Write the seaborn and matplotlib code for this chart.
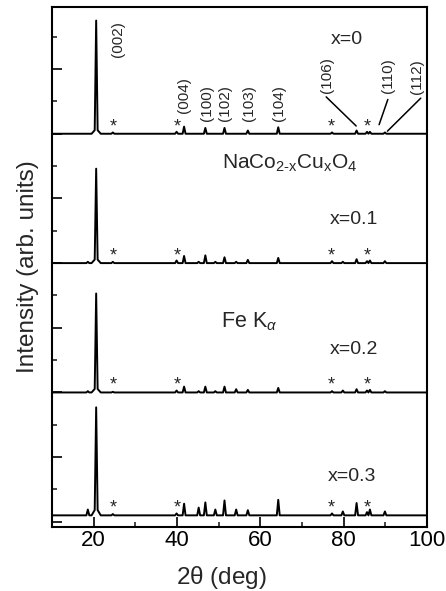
import numpy as np
import matplotlib
matplotlib.use("Agg")
import matplotlib.pyplot as plt
import seaborn as sns

# peak positions (2theta, deg) shared by all four patterns
peak_pos = [18.6, 20.6, 24.6, 39.9, 41.7, 45.2, 46.8, 49.2, 51.4, 54.2,
            57.0, 64.3, 77.2, 79.8, 83.1, 85.6, 86.3, 89.9]

# peak heights above each baseline (arb. units)
h_x0 = [0.00, 1.67, 0.02, 0.03, 0.11, 0.00, 0.09, 0.00, 0.09, 0.00,
        0.05, 0.10, 0.02, 0.00, 0.05, 0.03, 0.03, 0.02]
h_x01 = [0.02, 1.38, 0.02, 0.04, 0.11, 0.02, 0.12, 0.02, 0.09, 0.02,
         0.05, 0.08, 0.03, 0.02, 0.06, 0.03, 0.04, 0.03]
h_x02 = [0.02, 1.45, 0.01, 0.03, 0.09, 0.02, 0.09, 0.02, 0.09, 0.05,
         0.04, 0.07, 0.02, 0.03, 0.05, 0.03, 0.04, 0.02]
h_x03 = [0.09, 1.55, 0.02, 0.03, 0.18, 0.12, 0.20, 0.09, 0.23, 0.09,
         0.08, 0.24, 0.03, 0.06, 0.19, 0.05, 0.09, 0.06]
foot_h = [0.08, 0.08, 0.08, 0.12]   # broad skirt under the (002) line

samples = ["x=0", "x=0.1", "x=0.2", "x=0.3"]
heights = [h_x0, h_x01, h_x02, h_x03]
baselines = [6.0, 4.0, 2.0, 0.1]

star_pos = [24.6, 40.0, 77.0, 85.7]   # impurity reflections

hkl = ["(002)", "(004)", "(100)", "(102)", "(103)", "(104)", "(106)", "(110)", "(112)"]

# style / layout
peak_w = 0.35
foot_w = 1.1
main_idx = 1
sns.set_theme(style="ticks")
plt.rcParams["font.family"] = ["Liberation Sans", "DejaVu Sans"]
plt.rcParams["mathtext.fontset"] = "custom"
plt.rcParams["mathtext.rm"] = "Liberation Sans"
plt.rcParams["mathtext.it"] = "Liberation Sans:italic"


def pattern(h, foot):
    # piecewise-linear profile: triangle for each reflection
    xs = [10.0, 100.0]
    for c in peak_pos:
        xs += [c - peak_w, c, c + peak_w]
    c0 = peak_pos[main_idx]
    xs += [c0 - foot_w, c0 + foot_w]
    xs = np.array(sorted(set(xs)))
    ys = np.zeros_like(xs)
    for c, a in zip(peak_pos, h):
        ys += a * np.clip(1 - np.abs(xs - c) / peak_w, 0, None)
    ys += foot * np.clip(1 - np.abs(xs - c0) / foot_w, 0, None)
    return xs, ys


fig = plt.figure(figsize=(4.46, 5.91), dpi=100)
ax = fig.add_axes([0.1166, 0.1083, 0.8408, 0.8799])

for name, h, f, b in zip(samples, heights, foot_h, baselines):
    xs, ys = pattern(h, f)
    sns.lineplot(x=xs, y=ys + b, color="black", lw=1.4, ax=ax,
                 estimator=None, sort=False)
    for s in star_pos:
        ax.text(s, b + 0.11, "*", ha="center", va="center", fontsize=13)

# sample labels
ax.text(80.8, 7.46, samples[0], ha="center", va="center", fontsize=14)
ax.text(82.5, 4.67, samples[1], ha="center", va="center", fontsize=14)
ax.text(82.5, 2.66, samples[2], ha="center", va="center", fontsize=14)
ax.text(82.0, 0.70, samples[3], ha="center", va="center", fontsize=14)

ax.text(67.1, 5.55, r"NaCo$_{\text{2-x}}$Cu$_{\mathrm{x}}$O$_4$",
        ha="center", va="center", fontsize=15)
ax.text(57.3, 3.10, r"Fe K$_{\alpha}$", ha="center", va="center", fontsize=15.5)

# Miller indices of the x=0 pattern
hkl_xy = [(25.8, 7.47), (41.7, 6.60), (47.1, 6.48), (51.6, 6.48), (57.2, 6.48),
          (64.4, 6.48), (75.9, 6.90), (90.7, 6.90), (97.5, 6.89)]
for lab, (lx, ly) in zip(hkl, hkl_xy):
    ax.text(lx, ly, lab, rotation=90, ha="center", va="center", fontsize=11)

ax.plot([75.8, 83.0], [6.57, 6.12], color="black", lw=1.1)
ax.plot([90.6, 88.5], [6.53, 6.14], color="black", lw=1.1)
ax.plot([98.5, 90.5], [6.55, 6.04], color="black", lw=1.1)

ax.set_xlim(10, 100)
ax.set_ylim(-0.08, 7.96)
ax.set_xticks([20, 40, 60, 80, 100])
ax.set_xticks([10, 30, 50, 70, 90], minor=True)
ax.set_yticks(np.arange(0, 8))
ax.set_yticks(np.arange(0.5, 8, 1), minor=True)
ax.set_yticklabels([])
ax.tick_params(which="major", direction="in", length=7, width=1.2,
               labelsize=16, pad=2, colors="black")
ax.tick_params(which="minor", direction="in", length=3.5, width=1.2)
for sp in ax.spines.values():
    sp.set_visible(True)
    sp.set_linewidth(1.5)
    sp.set_color("black")

ax.set_xlabel(r"2$\mathrm{\theta}$ (deg)", fontsize=17.5)
ax.xaxis.set_label_coords(0.452, -0.071)
ax.set_ylabel("Intensity (arb. units)", fontsize=17.5)
ax.yaxis.set_label_coords(-0.035, 0.5)

fig.savefig("out.png", dpi=100)
